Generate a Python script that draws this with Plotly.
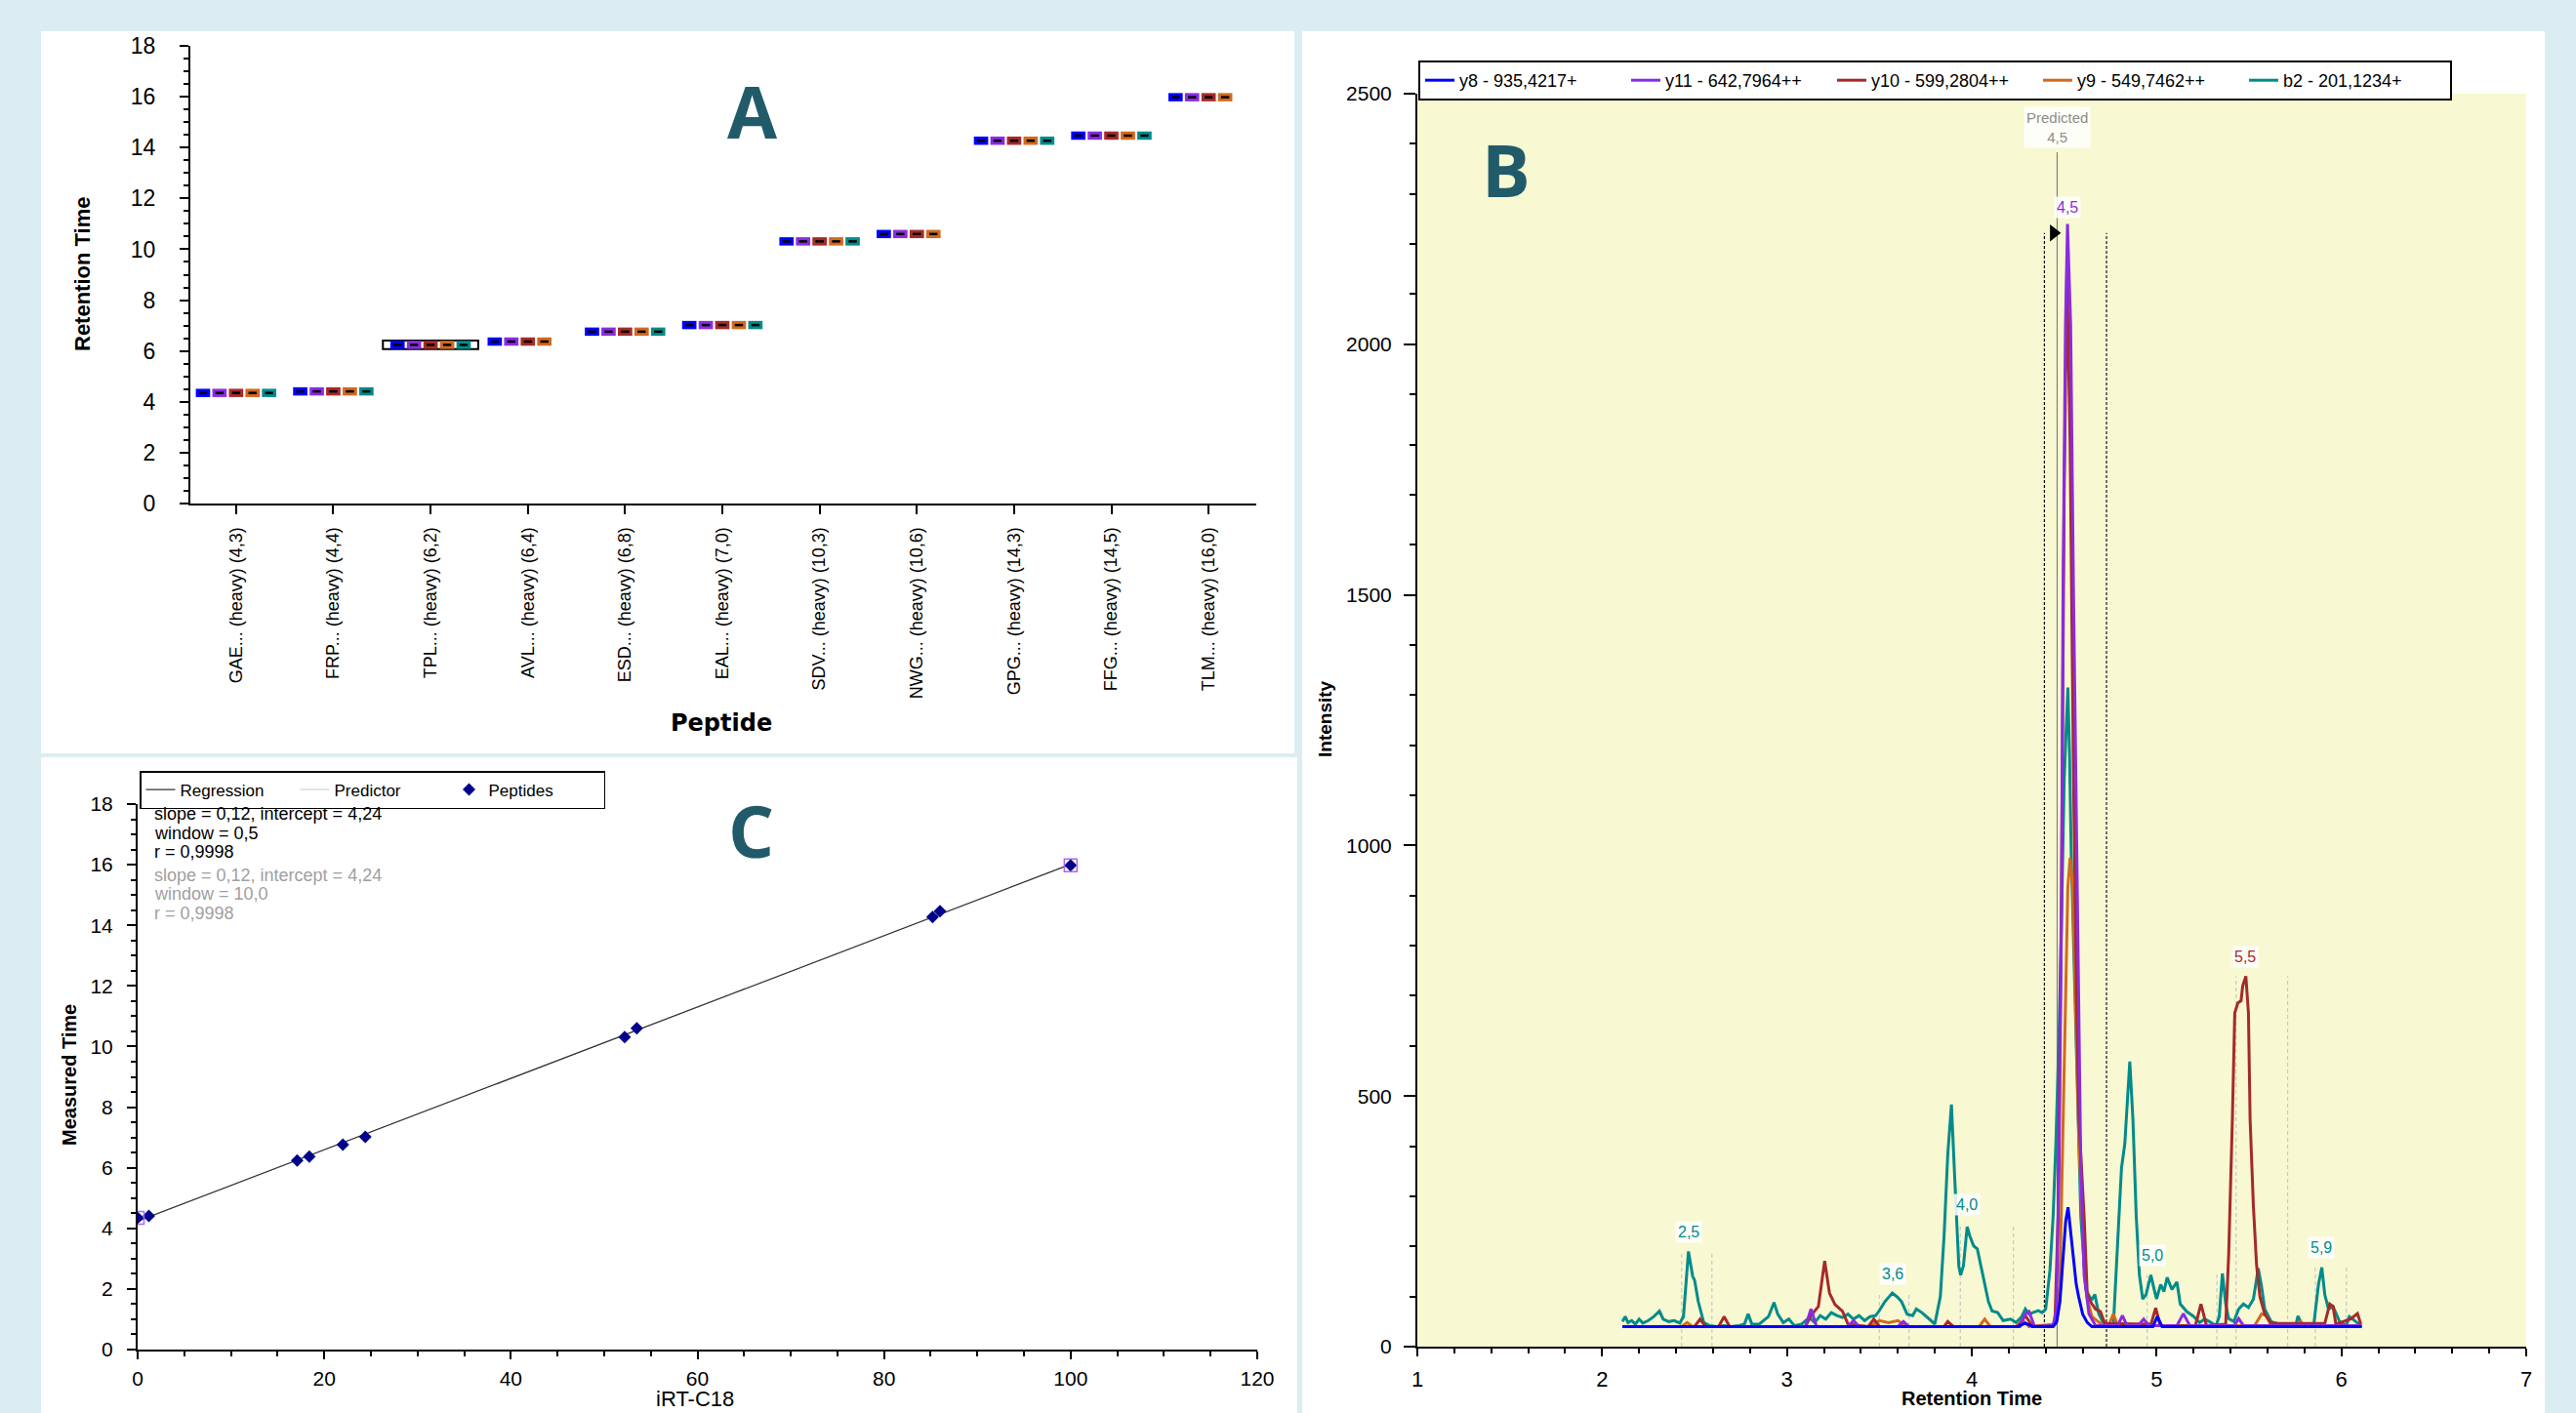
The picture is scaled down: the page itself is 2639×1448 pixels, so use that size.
import numpy as np
import plotly.graph_objects as go

W, H = 2639, 1448
def px(x): return x / W
def py(y): return 1 - y / H

ARIAL = "Liberation Sans, Arial, sans-serif"
LETTER_FONT = "Open Sans, Lato, sans-serif"

# ---------------- data ----------------
peptides = ["GAE... (heavy) (4,3)", "FRP... (heavy) (4,4)", "TPL... (heavy) (6,2)",
            "AVL... (heavy) (6,4)", "ESD... (heavy) (6,8)", "EAL... (heavy) (7,0)",
            "SDV... (heavy) (10,3)", "NWG... (heavy) (10,6)", "GPG... (heavy) (14,3)",
            "FFG... (heavy) (14,5)", "TLM... (heavy) (16,0)"]
measured_rt = [4.35, 4.41, 6.24, 6.37, 6.76, 7.02, 10.31, 10.60, 14.27, 14.47, 15.98]
irt_c18 = [0.0, 1.2, 17.1, 18.4, 22.0, 24.4, 52.2, 53.5, 85.2, 86.0, 100.0]
selected_peptide = 2
irt_standards = [0, 10]  # peptides shown with square outline in regression

transitions = ["y8 - 935,4217+", "y11 - 642,7964++", "y10 - 599,2804++",
               "y9 - 549,7462++", "b2 - 201,1234+"]
trans_colors = ["#0000FF", "#8A2BE2", "#A52A2A", "#D2691E", "#008B8B"]
# which peptides show each transition in panel A (b2 absent for AVL, NWG, TLM)
trans_present = [
    [1] * 11,
    [1] * 11,
    [1] * 11,
    [1] * 11,
    [1, 1, 1, 0, 1, 1, 1, 0, 1, 1, 0],
]
trans_offsets = [-0.34, -0.17, 0.0, 0.17, 0.34]

# chromatograms (retention time, intensity)
y8_t = [2.11, 4.25, 4.29, 4.33, 4.44, 4.46, 4.477, 4.494, 4.508, 4.521, 4.535, 4.551,
        4.565, 4.578, 4.60, 4.625, 4.65, 4.98, 5.004, 5.03, 6.11]
y8_i = [40, 40, 47, 40, 40, 50, 90, 180, 250, 278, 230, 170, 125, 100, 65, 48, 40, 40,
        60, 40, 40]

y11_t = [2.11, 3.10, 3.13, 3.16, 3.33, 3.36, 3.39, 3.60, 3.63, 3.66, 4.26, 4.29, 4.31,
         4.34, 4.44, 4.458, 4.472, 4.485, 4.494, 4.507, 4.518, 4.535, 4.55, 4.573, 4.59,
         4.608, 4.634, 4.67, 4.79, 4.815, 4.84, 4.90, 4.93, 4.96, 5.11, 5.145, 5.18,
         5.42, 5.444, 5.47, 6.11]
y11_i = [40, 40, 75, 40, 40, 52, 40, 40, 50, 40, 40, 65, 70, 40, 42, 75, 356, 840, 1519,
         2038, 2240, 2038, 1519, 840, 356, 143, 65, 42, 42, 62, 42, 42, 55, 42, 42, 66,
         42, 42, 56, 42, 42]

y10_t = [2.11, 2.50, 2.53, 2.56, 2.63, 2.66, 2.69, 3.10, 3.13, 3.17, 3.204, 3.23, 3.26,
         3.30, 3.33, 3.44, 3.47, 3.50, 3.85, 3.87, 3.90, 4.25, 4.29, 4.33, 4.44, 4.45,
         4.467, 4.485, 4.50, 4.515, 4.532, 4.55, 4.567, 4.58, 4.608, 4.625, 4.65, 4.67,
         4.696, 4.72, 4.97, 4.995, 5.02, 5.21, 5.24, 5.27, 5.374, 5.39, 5.41, 5.423,
         5.44, 5.457, 5.466, 5.483, 5.497, 5.506, 5.524, 5.541, 5.559, 5.585, 5.62,
         5.91, 5.937, 5.955, 5.97, 6.05, 6.087, 6.105]
y10_i = [40, 40, 55, 40, 40, 60, 40, 40, 62, 80, 171, 107, 84, 71, 45, 40, 55, 40, 40,
         50, 40, 40, 62, 40, 42, 50, 260, 900, 1700, 2150, 1800, 1150, 700, 453, 259,
         104, 85, 75, 70, 46, 45, 77, 42, 42, 85, 42, 45, 182, 453, 666, 686, 690, 720,
         739, 666, 453, 279, 163, 100, 65, 46, 46, 85, 80, 45, 55, 66, 45]

y9_t = [2.11, 2.43, 2.46, 2.49, 3.45, 3.50, 3.55, 3.60, 3.65, 4.04, 4.07, 4.10, 4.24,
        4.275, 4.31, 4.45, 4.476, 4.50, 4.52, 4.532, 4.546, 4.564, 4.58, 4.608, 4.625,
        4.65, 4.70, 4.74, 4.766, 4.79, 5.53, 5.568, 5.594, 5.62, 5.76, 5.78, 5.80, 6.11]
y9_i = [40, 40, 48, 40, 40, 52, 48, 52, 40, 40, 55, 40, 40, 52, 40, 45, 120, 550, 918,
        975, 918, 647, 405, 162, 95, 60, 45, 42, 65, 42, 42, 65, 62, 42, 42, 50, 40, 40]

b2_t = [2.11, 2.125, 2.14, 2.16, 2.18, 2.20, 2.22, 2.25, 2.28, 2.31, 2.33, 2.36, 2.39,
        2.42, 2.44, 2.467, 2.49, 2.50, 2.52, 2.55, 2.58, 2.62, 2.66, 2.70, 2.74, 2.77,
        2.79, 2.81, 2.85, 2.88, 2.90, 2.93, 2.95, 2.98, 3.01, 3.04, 3.08, 3.12, 3.15,
        3.18, 3.21, 3.24, 3.27, 3.30, 3.33, 3.36, 3.39, 3.42, 3.45, 3.48, 3.50, 3.53,
        3.57, 3.60, 3.62, 3.65, 3.68, 3.70, 3.73, 3.77, 3.80, 3.83, 3.85, 3.87, 3.89,
        3.91, 3.93, 3.94, 3.955, 3.975, 3.99, 4.01, 4.03, 4.05, 4.07, 4.09, 4.11, 4.14,
        4.17, 4.21, 4.24, 4.27, 4.29, 4.31, 4.33, 4.36, 4.38, 4.40, 4.423, 4.44, 4.455,
        4.472, 4.485, 4.50, 4.52, 4.529, 4.538, 4.555, 4.573, 4.59, 4.617, 4.64, 4.652,
        4.666, 4.687, 4.714, 4.766, 4.784, 4.81, 4.828, 4.855, 4.872, 4.89, 4.907,
        4.925, 4.943, 4.969, 4.987, 5.0, 5.022, 5.04, 5.057, 5.083, 5.11, 5.128, 5.163,
        5.198, 5.233, 5.26, 5.286, 5.321, 5.339, 5.356, 5.374, 5.39, 5.418, 5.444,
        5.47, 5.497, 5.524, 5.55, 5.568, 5.585, 5.62, 5.673, 5.709, 5.753, 5.765,
        5.788, 5.85, 5.876, 5.894, 5.91, 5.93, 5.955, 5.99, 6.026, 6.043, 6.07, 6.105]
b2_i = [50, 60, 48, 52, 45, 55, 47, 52, 60, 71, 55, 50, 52, 47, 60, 190, 140, 133, 90,
        48, 42, 40, 42, 40, 42, 45, 65, 45, 45, 55, 60, 88, 65, 48, 55, 42, 45, 58, 48,
        62, 55, 68, 62, 58, 65, 55, 62, 52, 60, 62, 72, 90, 107, 98, 90, 65, 62, 75, 68,
        55, 45, 100, 220, 383, 483, 318, 160, 143, 162, 239, 220, 201, 195, 160, 123,
        90, 71, 68, 52, 55, 48, 60, 75, 65, 68, 72, 68, 75, 153, 259, 405, 620, 840,
        1131, 1315, 1180, 986, 744, 501, 259, 114, 98, 95, 104, 65, 46, 41, 162, 356,
        405, 569, 453, 259, 143, 95, 104, 143, 114, 95, 124, 110, 138, 114, 129, 85, 70,
        61, 48, 55, 50, 42, 60, 146, 85, 56, 50, 75, 85, 78, 95, 156, 120, 75, 50, 44,
        42, 42, 61, 42, 42, 124, 158, 104, 75, 80, 50, 42, 60, 52, 42]

chrom_t = [y8_t, y11_t, y10_t, y9_t, b2_t]
chrom_i = [y8_i, y11_i, y10_i, y9_i, b2_i]

# peak labels: (time, apex intensity, text, transition index)
peak_label_t = [2.467, 3.57, 3.975, 4.975, 5.48, 5.89]
peak_label_i = [190, 107, 245, 145, 739, 160]
peak_label_txt = ["2,5", "3,6", "4,0", "5,0", "5,5", "5,9"]
peak_label_tr = [4, 4, 4, 4, 2, 4]
apex_t, apex_i, apex_txt = 4.518, 2240, "4,5"

predicted_rt = 4.462
predicted_top = 2383
integ_start, integ_end, integ_top = 4.393, 4.729, 2222

# other peak boundaries (faint dashed lines)
bound_t = [2.430, 2.594, 3.50, 3.66, 3.938, 4.225, 4.949, 5.326, 5.43, 5.709, 5.859, 6.027]
bound_top = [191, 191, 107, 107, 240, 240, 143, 146, 739, 739, 158, 158]

# regression text
reg_lines = ["slope = 0,12, intercept = 4,24", "window = 0,5", "r = 0,9998"]
pred_lines = ["slope = 0,12, intercept = 4,24", "window = 10,0", "r = 0,9998"]

# ---------------- figure ----------------
fig = go.Figure()

# Panel A markers
for k in range(5):
    xs = [i + trans_offsets[k] for i in range(len(peptides)) if trans_present[k][i]]
    ys = [measured_rt[i] for i in range(len(peptides)) if trans_present[k][i]]
    fig.add_trace(go.Scatter(x=xs, y=ys, mode="markers", xaxis="x", yaxis="y",
                             showlegend=False, hoverinfo="skip",
                             marker=dict(symbol="line-ew", size=10.5,
                                         line=dict(color=trans_colors[k], width=8.5))))
    fig.add_trace(go.Scatter(x=xs, y=ys, mode="markers", xaxis="x", yaxis="y",
                             showlegend=False, hoverinfo="skip",
                             marker=dict(symbol="line-ew", size=6,
                                         line=dict(color="black", width=2.5))))

# Panel C: regression (predictor drawn below regression)
coef = np.polyfit(irt_c18, measured_rt, 1)
reg_x = [0, 100]
reg_y = [coef[1] + coef[0] * v for v in reg_x]
fig.add_trace(go.Scatter(x=reg_x, y=reg_y, mode="lines", name="Predictor",
                         xaxis="x2", yaxis="y2", legend="legend2", legendrank=2,
                         line=dict(color="#C8C8C8", width=1)))
fig.add_trace(go.Scatter(x=reg_x, y=reg_y, mode="lines", name="Regression",
                         xaxis="x2", yaxis="y2", legend="legend2", legendrank=1,
                         line=dict(color="#333333", width=1.2)))
fig.add_trace(go.Scatter(x=irt_c18, y=measured_rt, mode="markers", name="Peptides",
                         xaxis="x2", yaxis="y2", legend="legend2", legendrank=3,
                         marker=dict(symbol="diamond", size=10, color="#00008B")))
fig.add_trace(go.Scatter(x=[irt_c18[i] for i in irt_standards],
                         y=[measured_rt[i] for i in irt_standards], mode="markers",
                         xaxis="x2", yaxis="y2", showlegend=False,
                         marker=dict(symbol="square-open", size=13,
                                     line=dict(color="black", width=1.5))))

# Panel B: boundary lines
bx, by = [], []
for t, top in zip(bound_t, bound_top):
    bx += [t, t, None]
    by += [0, top, None]
fig.add_trace(go.Scatter(x=bx, y=by, mode="lines", xaxis="x3", yaxis="y3",
                         showlegend=False, hoverinfo="skip",
                         line=dict(color="#C8C8C8", width=1.2, dash="4px,3px")))
fig.add_trace(go.Scatter(x=[predicted_rt, predicted_rt], y=[0, predicted_top],
                         mode="lines", xaxis="x3", yaxis="y3", showlegend=False,
                         line=dict(color="#808080", width=1.2)))
fig.add_trace(go.Scatter(x=[integ_start, integ_start], y=[0, integ_top],
                         mode="lines", xaxis="x3", yaxis="y3", showlegend=False,
                         line=dict(color="black", width=1.2, dash="3px,2px")))
fig.add_trace(go.Scatter(x=[integ_end, integ_end], y=[0, integ_top],
                         mode="lines", xaxis="x3", yaxis="y3", showlegend=False,
                         line=dict(color="#6E6E6E", width=2, dash="3px,2px")))

# chromatograms: draw teal first, blue last; legend order y8..b2
for k in [4, 3, 2, 1, 0]:
    fig.add_trace(go.Scatter(x=chrom_t[k], y=chrom_i[k], mode="lines",
                             name=transitions[k], legend="legend", legendrank=k + 1,
                             xaxis="x3", yaxis="y3",
                             line=dict(color=trans_colors[k], width=3)))

fig.add_trace(go.Scatter(x=[integ_start + 0.05], y=[integ_top], mode="markers",
                         xaxis="x3", yaxis="y3", showlegend=False,
                         marker=dict(symbol="triangle-right", size=15, color="black")))

# ---------------- shapes ----------------
shapes = [
    dict(type="rect", xref="paper", yref="paper", x0=px(42), x1=px(1326), y0=py(772),
         y1=py(32), fillcolor="white", line=dict(width=0), layer="below"),
    dict(type="rect", xref="paper", yref="paper", x0=px(42), x1=px(1329), y0=0,
         y1=py(776), fillcolor="white", line=dict(width=0), layer="below"),
    dict(type="rect", xref="paper", yref="paper", x0=px(1334), x1=px(2607), y0=0,
         y1=py(32), fillcolor="white", line=dict(width=0), layer="below"),
    dict(type="rect", xref="x3 domain", yref="y3 domain", x0=0, x1=1, y0=0, y1=1,
         fillcolor="#F8F8D2", line=dict(width=0), layer="below"),
    dict(type="rect", xref="x", yref="y", x0=selected_peptide - 0.49,
         x1=selected_peptide + 0.49, y0=measured_rt[selected_peptide] - 0.17,
         y1=measured_rt[selected_peptide] + 0.17, line=dict(color="black", width=2),
         fillcolor="rgba(255,255,255,0.6)", layer="below"),
]

# ---------------- annotations ----------------
ann = []
def pann(text, x, y, font, angle=0, xanchor="center", yanchor="middle"):
    ann.append(dict(text=text, x=px(x), y=py(y), xref="paper", yref="paper",
                    showarrow=False, textangle=angle, xanchor=xanchor,
                    yanchor=yanchor, font=font))

letter_font = dict(family=LETTER_FONT, size=74, color="#215B6A")
pann("<b>A</b>", 771, 114, letter_font)
pann("<b>B</b>", 1543, 173, letter_font)
pann("<b>C</b>", 769, 850, letter_font)

# axis titles
pann("<b>Retention Time</b>", 84, 281, dict(family=ARIAL, size=22, color="black"), -90)
pann("<b>Peptide</b>", 739, 741, dict(family="DejaVu Sans, sans-serif", size=24,
                                      color="black"))
pann("<b>Intensity</b>", 1357, 737, dict(family=ARIAL, size=19, color="black"), -90)
pann("<b>Retention Time</b>", 2020, 1433, dict(family=ARIAL, size=20, color="black"))
pann("<b>Measured Time</b>", 71, 1102, dict(family=ARIAL, size=20, color="black"), -90)
pann("iRT-C18", 712, 1433, dict(family=ARIAL, size=22, color="black"))

# regression stats text
for j, line in enumerate(reg_lines + pred_lines):
    pann(line, 156, 834 + 19.6 * j + (4 if j >= 3 else 0),
         dict(family=ARIAL, size=18, color="black" if j < 3 else "#A0A0A0"),
         xanchor="left")

# chromatogram labels
for t, v, txt, k in zip(peak_label_t, peak_label_i, peak_label_txt, peak_label_tr):
    ann.append(dict(text=txt, x=t, y=v, xref="x3", yref="y3", showarrow=False,
                    xanchor="center", yanchor="bottom", yshift=8,
                    bgcolor="rgba(255,255,255,0.85)", borderpad=2,
                    font=dict(family=ARIAL, size=16, color=trans_colors[k])))
ann.append(dict(text=apex_txt, x=apex_t, y=apex_i, xref="x3", yref="y3",
                showarrow=False, xanchor="center", yanchor="bottom", yshift=6,
                bgcolor="rgba(255,255,255,0.85)", borderpad=2,
                font=dict(family=ARIAL, size=16, color=trans_colors[1])))
ann.append(dict(text="Predicted<br>" + "4,5", x=predicted_rt, y=predicted_top,
                xref="x3", yref="y3", showarrow=False, xanchor="center",
                yanchor="bottom", yshift=4,
                bgcolor="rgba(255,255,255,0.85)", borderpad=2,
                font=dict(family=ARIAL, size=15, color="#8C8C8C")))

axis_common = dict(showgrid=False, zeroline=False, showline=True, linecolor="black",
                   linewidth=2, ticks="outside", tickcolor="black", tickwidth=1.5,
                   automargin=False)

fig.update_layout(
    width=W, height=H,
    margin=dict(l=0, r=0, t=0, b=0, autoexpand=False),
    paper_bgcolor="#DBEDF3",
    plot_bgcolor="rgba(0,0,0,0)",
    shapes=shapes,
    annotations=ann,
    xaxis=dict(domain=[px(195), px(1287)], anchor="y", range=[-0.47, 10.49],
               tickmode="array", tickvals=list(range(len(peptides))), ticktext=peptides,
               tickangle=-90, ticklen=9, ticklabelstandoff=6,
               tickfont=dict(family=ARIAL, size=18, color="black"), **axis_common),
    yaxis=dict(domain=[py(516), py(47)], anchor="x", range=[0, 18], dtick=2, ticklen=9,
               ticklabelstandoff=20,
               minor=dict(dtick=0.5, ticks="outside", ticklen=5, tickcolor="black"),
               tickfont=dict(family=ARIAL, size=23, color="black"), **axis_common),
    xaxis2=dict(domain=[px(141), px(1288)], anchor="y2", range=[0, 120], dtick=20,
                ticklen=8, ticklabelstandoff=2,
                minor=dict(dtick=5, ticks="outside", ticklen=5, tickcolor="black"),
                tickfont=dict(family=ARIAL, size=21, color="black"), **axis_common),
    yaxis2=dict(domain=[py(1383), py(824)], anchor="x2", range=[0, 18], dtick=2,
                ticklen=9, ticklabelstandoff=10,
                minor=dict(dtick=0.5, ticks="outside", ticklen=5, tickcolor="black"),
                tickfont=dict(family=ARIAL, size=21, color="black"), **axis_common),
    xaxis3=dict(domain=[px(1452), px(2588)], anchor="y3", range=[1, 7], dtick=1,
                ticklen=8, ticklabelstandoff=5,
                minor=dict(dtick=0.2, ticks="outside", ticklen=5, tickcolor="black"),
                tickfont=dict(family=ARIAL, size=22, color="black"), **axis_common),
    yaxis3=dict(domain=[py(1380), py(96)], anchor="x3", range=[0, 2500], dtick=500,
                ticklen=12, ticklabelstandoff=8,
                minor=dict(dtick=100, ticks="outside", ticklen=6, tickcolor="black"),
                tickfont=dict(family=ARIAL, size=21, color="black"), **axis_common),
    legend=dict(x=px(1453), y=py(62), xanchor="left", yanchor="top", orientation="h",
                entrywidth=166, entrywidthmode="pixels", bgcolor="white",
                bordercolor="black", borderwidth=2, traceorder="normal",
                font=dict(family=ARIAL, size=18, color="black"), tracegroupgap=0),
    legend2=dict(x=px(143), y=py(790), xanchor="left", yanchor="top", orientation="h",
                 entrywidth=113, entrywidthmode="pixels", bgcolor="white",
                 bordercolor="black", borderwidth=1.5,
                 font=dict(family=ARIAL, size=17, color="black")),
)

fig.write_html("out.html", config={"displayModeBar": False},
               post_script="document.body.style.margin='0';"
                           "document.body.style.padding='0';")
